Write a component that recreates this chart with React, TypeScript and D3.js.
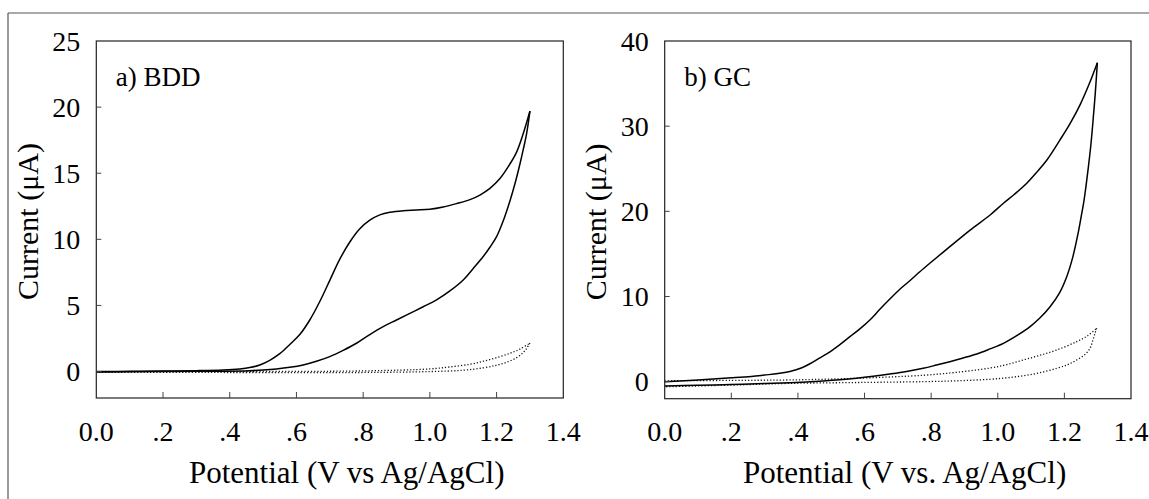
import React from "react";
import * as d3 from "d3";

// ---------- Data (Potential V, Current µA) ----------
const xTicks = [0, 0.2, 0.4, 0.6, 0.8, 1.0, 1.2, 1.4];
const yTicksA = [0, 5, 10, 15, 20, 25];
const yTicksB = [0, 10, 20, 30, 40];

const bddForward: [number, number][] = [
  [0.0, 0.0], [0.1, 0.02], [0.2, 0.04], [0.3, 0.07], [0.38, 0.12], [0.43, 0.2],
  [0.46, 0.3], [0.49, 0.5], [0.52, 0.85], [0.55, 1.35], [0.58, 2.05], [0.61, 2.8],
  [0.64, 3.9], [0.67, 5.3], [0.7, 6.9], [0.73, 8.5], [0.76, 9.8], [0.79, 10.8],
  [0.82, 11.45], [0.85, 11.85], [0.88, 12.05], [0.92, 12.17], [0.96, 12.22],
  [1.0, 12.28], [1.04, 12.45], [1.08, 12.7], [1.12, 13.0], [1.15, 13.35],
  [1.18, 13.85], [1.21, 14.6], [1.235, 15.5], [1.26, 16.6], [1.28, 18.0], [1.3, 19.7],
];
const bddReverse: [number, number][] = [
  [1.3, 19.7], [1.29, 18.0], [1.28, 16.8], [1.27, 15.7], [1.255, 14.2],
  [1.24, 12.9], [1.22, 11.4], [1.2, 10.2], [1.18, 9.4], [1.16, 8.7], [1.13, 7.8],
  [1.1, 6.93], [1.06, 6.1], [1.02, 5.42], [0.98, 4.9], [0.94, 4.4], [0.9, 3.9],
  [0.86, 3.4], [0.82, 2.8], [0.78, 2.14], [0.74, 1.6], [0.7, 1.13], [0.66, 0.78],
  [0.62, 0.5], [0.58, 0.32], [0.54, 0.2], [0.5, 0.12], [0.46, 0.07], [0.3, 0.02],
  [0.0, -0.03],
];
const bddBlankForward: [number, number][] = [
  [0.0, 0.0], [0.4, 0.0], [0.8, 0.05], [1.0, 0.2], [1.06, 0.35], [1.12, 0.55],
  [1.16, 0.78], [1.2, 1.05], [1.24, 1.38], [1.27, 1.7], [1.3, 2.15],
];
const bddBlankReverse: [number, number][] = [
  [1.3, 2.15], [1.29, 1.75], [1.28, 1.45], [1.26, 1.05], [1.23, 0.7], [1.2, 0.48],
  [1.16, 0.28], [1.1, 0.1], [1.0, 0.0], [0.8, -0.07], [0.4, -0.07], [0.0, -0.05],
];

const gcForward: [number, number][] = [
  [0.0, 0.0], [0.1, 0.2], [0.2, 0.45], [0.26, 0.62], [0.3, 0.78], [0.34, 0.95],
  [0.376, 1.2], [0.41, 1.6], [0.436, 2.1], [0.466, 2.8], [0.496, 3.5],
  [0.526, 4.35], [0.556, 5.28], [0.586, 6.2], [0.616, 7.24], [0.646, 8.5],
  [0.676, 9.7], [0.706, 10.85], [0.736, 11.85], [0.766, 12.9], [0.796, 13.9],
  [0.856, 15.85], [0.917, 17.8], [0.977, 19.57], [1.017, 20.95], [1.05, 22.0],
  [1.087, 23.3], [1.117, 24.6], [1.147, 26.0], [1.187, 28.4], [1.217, 30.3],
  [1.247, 32.5], [1.275, 35.0], [1.299, 37.45],
];
const gcReverse: [number, number][] = [
  [1.299, 37.45], [1.293, 34.0], [1.287, 31.1], [1.28, 28.0], [1.272, 25.2],
  [1.265, 23.0], [1.259, 21.3], [1.25, 19.3], [1.24, 17.2], [1.225, 14.6],
  [1.207, 12.33], [1.185, 10.4], [1.157, 8.8], [1.127, 7.5], [1.097, 6.46],
  [1.057, 5.4], [1.017, 4.5], [0.977, 3.85], [0.937, 3.25], [0.896, 2.78],
  [0.856, 2.35], [0.816, 1.95], [0.776, 1.57], [0.726, 1.2], [0.676, 0.9],
  [0.626, 0.63], [0.576, 0.4], [0.526, 0.22], [0.476, 0.08], [0.426, -0.03],
  [0.376, -0.12], [0.3, -0.22], [0.2, -0.33], [0.1, -0.42], [0.0, -0.5],
];
const gcBlankForward: [number, number][] = [
  [0.0, 0.1], [0.2, 0.15], [0.376, 0.2], [0.576, 0.4], [0.776, 0.75],
  [0.877, 1.1], [0.977, 1.6], [1.027, 2.0], [1.077, 2.55], [1.127, 3.1],
  [1.177, 3.72], [1.237, 4.7], [1.27, 5.4], [1.297, 6.27],
];
const gcBlankReverse: [number, number][] = [
  [1.297, 6.27], [1.292, 5.68], [1.285, 4.8], [1.277, 3.92], [1.262, 3.2],
  [1.237, 2.55], [1.21, 2.0], [1.177, 1.57], [1.127, 1.05], [1.077, 0.7],
  [1.027, 0.45], [0.977, 0.28], [0.876, 0.1], [0.776, 0.0], [0.576, -0.1],
  [0.376, -0.2], [0.2, -0.4], [0.0, -0.6],
];

const FONT = "'Liberation Serif', 'Times New Roman', serif";

const fmtX = (v: number) => {
  const s = v.toFixed(1);
  return v > 0 && v < 1 ? s.slice(1) : s;
};

type PanelProps = {
  x0: number; x1: number; yTop: number; yBottom: number;
  yDomain: [number, number]; yTicks: number[];
  label: string; xTitle: string; xTitleX: number; yTitleX: number;
  solid: [number, number][][]; dotted: [number, number][][];
};

function Panel(p: PanelProps) {
  const x = d3.scaleLinear().domain([0, 1.4]).range([p.x0, p.x1]);
  const y = d3.scaleLinear().domain(p.yDomain).range([p.yBottom, p.yTop]);
  const line = d3
    .line<[number, number]>()
    .x((d) => x(d[0]))
    .y((d) => y(d[1]))
    .curve(d3.curveCatmullRom.alpha(0.5));
  const midY = (p.yTop + p.yBottom) / 2;
  return (
    <g>
      {p.dotted.map((s, i) => (
        <path key={"d" + i} d={line(s) || ""} fill="none" stroke="#111"
          strokeWidth={1.3} strokeDasharray="1.2,2" />
      ))}
      {p.solid.map((s, i) => (
        <path key={"s" + i} d={line(s) || ""} fill="none" stroke="#000"
          strokeWidth={1.5} strokeLinejoin="round" />
      ))}
      <rect x={p.x0} y={p.yTop} width={p.x1 - p.x0} height={p.yBottom - p.yTop}
        fill="none" stroke="#222" strokeWidth={1.2} />
      {xTicks.slice(1, -1).map((t) => (
        <line key={"xt" + t} x1={x(t)} x2={x(t)} y1={p.yBottom} y2={p.yBottom - 6}
          stroke="#444" strokeWidth={1} />
      ))}
      {p.yTicks.slice(0, -1).map((t) => (
        <line key={"yt" + t} x1={p.x0} x2={p.x0 + 5} y1={y(t)} y2={y(t)}
          stroke="#444" strokeWidth={1} />
      ))}
      {xTicks.map((t) => (
        <text key={"xl" + t} x={x(t)} y={440.5} textAnchor="middle"
          fontFamily={FONT} fontSize={28} fill="#000">{fmtX(t)}</text>
      ))}
      {p.yTicks.map((t) => (
        <text key={"yl" + t} x={p.x0 - 16} y={y(t) + 9.5} textAnchor="end"
          fontFamily={FONT} fontSize={28} fill="#000">{t}</text>
      ))}
      <text x={p.x0 + 19.5} y={86} fontFamily={FONT} fontSize={27} fill="#000">{p.label}</text>
      <text x={p.xTitleX} y={483} fontFamily={FONT} fontSize={31} fill="#000">{p.xTitle}</text>
      <text transform={`translate(${p.yTitleX},${midY + 2}) rotate(-90)`} textAnchor="middle"
        fontFamily={FONT} fontSize={30} fill="#000">Current (μA)</text>
    </g>
  );
}

export default function App() {
  return (
    <svg width={1149} height={499} style={{ position: "absolute", left: 0, top: 0, background: "#fff" }}>
      <rect x={0} y={0} width={1149} height={499} fill="#fff" />
      <line x1={8} x2={1149} y1={13} y2={13} stroke="#555" strokeWidth={1.2} />
      <line x1={8} x2={8} y1={13} y2={499} stroke="#555" strokeWidth={1.2} />
      <Panel x0={96.3} x1={563.3} yTop={41} yBottom={398} yDomain={[-2, 25]} yTicks={yTicksA}
        label="a) BDD" xTitle="Potential (V vs Ag/AgCl)" xTitleX={189} yTitleX={38}
        solid={[bddForward, bddReverse]} dotted={[bddBlankForward, bddBlankReverse]} />
      <Panel x0={664.7} x1={1131} yTop={41} yBottom={398.7} yDomain={[-2, 40]} yTicks={yTicksB}
        label="b) GC" xTitle="Potential (V vs. Ag/AgCl)" xTitleX={743} yTitleX={606}
        solid={[gcForward, gcReverse]} dotted={[gcBlankForward, gcBlankReverse]} />
    </svg>
  );
}
